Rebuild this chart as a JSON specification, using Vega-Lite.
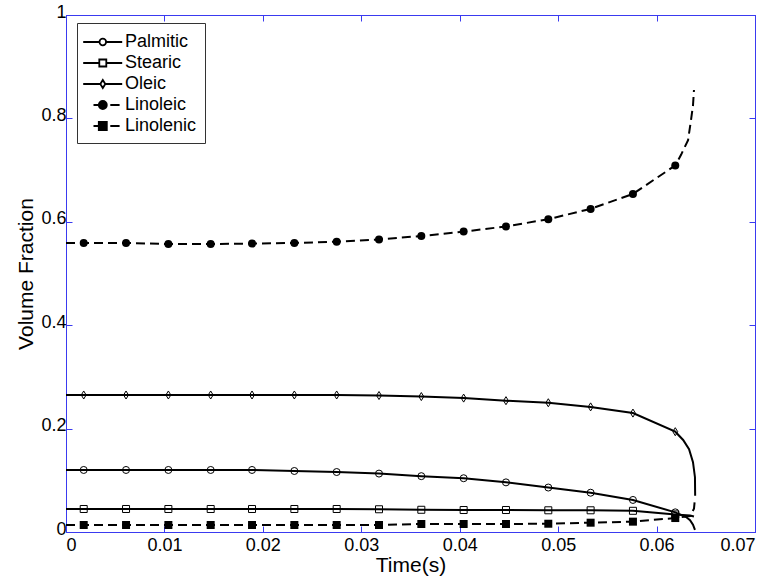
{
  "$schema": "https://vega.github.io/schema/vega-lite/v6.json",
  "width": 689,
  "height": 517,
  "autosize": {"type": "none"},
  "padding": {"left": 66, "top": 15, "right": 22, "bottom": 45},
  "background": "white",
  "config": {
    "view": {"stroke": "#3a3af0", "strokeWidth": 1},
    "axis": {
      "grid": false,
      "domainColor": "#3a3af0",
      "domainWidth": 1,
      "tickColor": "#3a3af0",
      "tickWidth": 1,
      "labelFont": "Liberation Sans",
      "labelFontSize": 18,
      "labelColor": "black",
      "titleFont": "Liberation Sans",
      "titleFontSize": 21,
      "titleFontWeight": "normal",
      "titleColor": "black"
    },
    "legend": {
      "labelFont": "Liberation Sans",
      "labelFontSize": 18,
      "labelColor": "black"
    }
  },
  "datasets": {
    "curves": [
      {"series": "Palmitic", "t": 0, "v": 0.12},
      {"series": "Palmitic", "t": 0.0018, "v": 0.12},
      {"series": "Palmitic", "t": 0.0061, "v": 0.12},
      {"series": "Palmitic", "t": 0.0104, "v": 0.12},
      {"series": "Palmitic", "t": 0.0147, "v": 0.12},
      {"series": "Palmitic", "t": 0.0189, "v": 0.12},
      {"series": "Palmitic", "t": 0.0232, "v": 0.118},
      {"series": "Palmitic", "t": 0.0275, "v": 0.116},
      {"series": "Palmitic", "t": 0.0318, "v": 0.113},
      {"series": "Palmitic", "t": 0.0361, "v": 0.108},
      {"series": "Palmitic", "t": 0.0404, "v": 0.104},
      {"series": "Palmitic", "t": 0.0447, "v": 0.096},
      {"series": "Palmitic", "t": 0.049, "v": 0.086},
      {"series": "Palmitic", "t": 0.0533, "v": 0.076},
      {"series": "Palmitic", "t": 0.0576, "v": 0.062},
      {"series": "Palmitic", "t": 0.0619, "v": 0.038},
      {"series": "Palmitic", "t": 0.063, "v": 0.029},
      {"series": "Palmitic", "t": 0.0634, "v": 0.023},
      {"series": "Palmitic", "t": 0.0637, "v": 0.014},
      {"series": "Palmitic", "t": 0.0639, "v": 0.004},
      {"series": "Stearic", "t": 0, "v": 0.0445},
      {"series": "Stearic", "t": 0.0018, "v": 0.0445},
      {"series": "Stearic", "t": 0.0061, "v": 0.0445},
      {"series": "Stearic", "t": 0.0104, "v": 0.0445},
      {"series": "Stearic", "t": 0.0147, "v": 0.0445},
      {"series": "Stearic", "t": 0.0189, "v": 0.0445},
      {"series": "Stearic", "t": 0.0232, "v": 0.0445},
      {"series": "Stearic", "t": 0.0275, "v": 0.0445},
      {"series": "Stearic", "t": 0.0318, "v": 0.044},
      {"series": "Stearic", "t": 0.0361, "v": 0.043},
      {"series": "Stearic", "t": 0.0404, "v": 0.0425},
      {"series": "Stearic", "t": 0.0447, "v": 0.0425},
      {"series": "Stearic", "t": 0.049, "v": 0.042},
      {"series": "Stearic", "t": 0.0533, "v": 0.042},
      {"series": "Stearic", "t": 0.0576, "v": 0.041},
      {"series": "Stearic", "t": 0.0619, "v": 0.034},
      {"series": "Stearic", "t": 0.0634, "v": 0.032},
      {"series": "Stearic", "t": 0.0638, "v": 0.03},
      {"series": "Oleic", "t": 0, "v": 0.265},
      {"series": "Oleic", "t": 0.0018, "v": 0.265},
      {"series": "Oleic", "t": 0.0061, "v": 0.265},
      {"series": "Oleic", "t": 0.0104, "v": 0.265},
      {"series": "Oleic", "t": 0.0147, "v": 0.265},
      {"series": "Oleic", "t": 0.0189, "v": 0.265},
      {"series": "Oleic", "t": 0.0232, "v": 0.265},
      {"series": "Oleic", "t": 0.0275, "v": 0.265},
      {"series": "Oleic", "t": 0.0318, "v": 0.264},
      {"series": "Oleic", "t": 0.0361, "v": 0.262},
      {"series": "Oleic", "t": 0.0404, "v": 0.259},
      {"series": "Oleic", "t": 0.0447, "v": 0.254},
      {"series": "Oleic", "t": 0.049, "v": 0.25},
      {"series": "Oleic", "t": 0.0533, "v": 0.242},
      {"series": "Oleic", "t": 0.0576, "v": 0.23},
      {"series": "Oleic", "t": 0.0619, "v": 0.194},
      {"series": "Oleic", "t": 0.0627, "v": 0.178},
      {"series": "Oleic", "t": 0.0633, "v": 0.16},
      {"series": "Oleic", "t": 0.0637, "v": 0.135},
      {"series": "Oleic", "t": 0.0639, "v": 0.106},
      {"series": "Oleic", "t": 0.06392, "v": 0.07},
      {"series": "Linoleic", "t": 0, "v": 0.559},
      {"series": "Linoleic", "t": 0.0018, "v": 0.559},
      {"series": "Linoleic", "t": 0.0061, "v": 0.559},
      {"series": "Linoleic", "t": 0.0104, "v": 0.557},
      {"series": "Linoleic", "t": 0.0147, "v": 0.557},
      {"series": "Linoleic", "t": 0.0189, "v": 0.558},
      {"series": "Linoleic", "t": 0.0232, "v": 0.559},
      {"series": "Linoleic", "t": 0.0275, "v": 0.5615},
      {"series": "Linoleic", "t": 0.0318, "v": 0.566},
      {"series": "Linoleic", "t": 0.0361, "v": 0.5725},
      {"series": "Linoleic", "t": 0.0404, "v": 0.581},
      {"series": "Linoleic", "t": 0.0447, "v": 0.591},
      {"series": "Linoleic", "t": 0.049, "v": 0.605},
      {"series": "Linoleic", "t": 0.0533, "v": 0.625},
      {"series": "Linoleic", "t": 0.0576, "v": 0.654},
      {"series": "Linoleic", "t": 0.0619, "v": 0.709},
      {"series": "Linoleic", "t": 0.0625, "v": 0.73},
      {"series": "Linoleic", "t": 0.0632, "v": 0.758},
      {"series": "Linoleic", "t": 0.0635, "v": 0.797},
      {"series": "Linoleic", "t": 0.0637, "v": 0.825},
      {"series": "Linoleic", "t": 0.0638, "v": 0.855},
      {"series": "Linolenic", "t": 0, "v": 0.0135},
      {"series": "Linolenic", "t": 0.0018, "v": 0.0135},
      {"series": "Linolenic", "t": 0.0061, "v": 0.0135},
      {"series": "Linolenic", "t": 0.0104, "v": 0.0135},
      {"series": "Linolenic", "t": 0.0147, "v": 0.0135},
      {"series": "Linolenic", "t": 0.0189, "v": 0.0135},
      {"series": "Linolenic", "t": 0.0232, "v": 0.0135},
      {"series": "Linolenic", "t": 0.0275, "v": 0.0135},
      {"series": "Linolenic", "t": 0.0318, "v": 0.0135},
      {"series": "Linolenic", "t": 0.0361, "v": 0.0155},
      {"series": "Linolenic", "t": 0.0404, "v": 0.0155},
      {"series": "Linolenic", "t": 0.0447, "v": 0.0155},
      {"series": "Linolenic", "t": 0.049, "v": 0.016},
      {"series": "Linolenic", "t": 0.0533, "v": 0.018},
      {"series": "Linolenic", "t": 0.0576, "v": 0.02},
      {"series": "Linolenic", "t": 0.0619, "v": 0.027},
      {"series": "Linolenic", "t": 0.0634, "v": 0.031},
      {"series": "Linolenic", "t": 0.0638, "v": 0.045},
      {"series": "Linolenic", "t": 0.0639, "v": 0.065}
    ],
    "markers": [
      {"series": "Palmitic", "t": 0.0018, "v": 0.12},
      {"series": "Palmitic", "t": 0.0061, "v": 0.12},
      {"series": "Palmitic", "t": 0.0104, "v": 0.12},
      {"series": "Palmitic", "t": 0.0147, "v": 0.12},
      {"series": "Palmitic", "t": 0.0189, "v": 0.12},
      {"series": "Palmitic", "t": 0.0232, "v": 0.118},
      {"series": "Palmitic", "t": 0.0275, "v": 0.116},
      {"series": "Palmitic", "t": 0.0318, "v": 0.113},
      {"series": "Palmitic", "t": 0.0361, "v": 0.108},
      {"series": "Palmitic", "t": 0.0404, "v": 0.104},
      {"series": "Palmitic", "t": 0.0447, "v": 0.096},
      {"series": "Palmitic", "t": 0.049, "v": 0.086},
      {"series": "Palmitic", "t": 0.0533, "v": 0.076},
      {"series": "Palmitic", "t": 0.0576, "v": 0.062},
      {"series": "Palmitic", "t": 0.0619, "v": 0.038},
      {"series": "Stearic", "t": 0.0018, "v": 0.0445},
      {"series": "Stearic", "t": 0.0061, "v": 0.0445},
      {"series": "Stearic", "t": 0.0104, "v": 0.0445},
      {"series": "Stearic", "t": 0.0147, "v": 0.0445},
      {"series": "Stearic", "t": 0.0189, "v": 0.0445},
      {"series": "Stearic", "t": 0.0232, "v": 0.0445},
      {"series": "Stearic", "t": 0.0275, "v": 0.0445},
      {"series": "Stearic", "t": 0.0318, "v": 0.044},
      {"series": "Stearic", "t": 0.0361, "v": 0.043},
      {"series": "Stearic", "t": 0.0404, "v": 0.0425},
      {"series": "Stearic", "t": 0.0447, "v": 0.0425},
      {"series": "Stearic", "t": 0.049, "v": 0.042},
      {"series": "Stearic", "t": 0.0533, "v": 0.042},
      {"series": "Stearic", "t": 0.0576, "v": 0.041},
      {"series": "Stearic", "t": 0.0619, "v": 0.034},
      {"series": "Oleic", "t": 0.0018, "v": 0.265},
      {"series": "Oleic", "t": 0.0061, "v": 0.265},
      {"series": "Oleic", "t": 0.0104, "v": 0.265},
      {"series": "Oleic", "t": 0.0147, "v": 0.265},
      {"series": "Oleic", "t": 0.0189, "v": 0.265},
      {"series": "Oleic", "t": 0.0232, "v": 0.265},
      {"series": "Oleic", "t": 0.0275, "v": 0.265},
      {"series": "Oleic", "t": 0.0318, "v": 0.264},
      {"series": "Oleic", "t": 0.0361, "v": 0.262},
      {"series": "Oleic", "t": 0.0404, "v": 0.259},
      {"series": "Oleic", "t": 0.0447, "v": 0.254},
      {"series": "Oleic", "t": 0.049, "v": 0.25},
      {"series": "Oleic", "t": 0.0533, "v": 0.242},
      {"series": "Oleic", "t": 0.0576, "v": 0.23},
      {"series": "Oleic", "t": 0.0619, "v": 0.194},
      {"series": "Linoleic", "t": 0.0018, "v": 0.559},
      {"series": "Linoleic", "t": 0.0061, "v": 0.559},
      {"series": "Linoleic", "t": 0.0104, "v": 0.557},
      {"series": "Linoleic", "t": 0.0147, "v": 0.557},
      {"series": "Linoleic", "t": 0.0189, "v": 0.558},
      {"series": "Linoleic", "t": 0.0232, "v": 0.559},
      {"series": "Linoleic", "t": 0.0275, "v": 0.5615},
      {"series": "Linoleic", "t": 0.0318, "v": 0.566},
      {"series": "Linoleic", "t": 0.0361, "v": 0.5725},
      {"series": "Linoleic", "t": 0.0404, "v": 0.581},
      {"series": "Linoleic", "t": 0.0447, "v": 0.591},
      {"series": "Linoleic", "t": 0.049, "v": 0.605},
      {"series": "Linoleic", "t": 0.0533, "v": 0.625},
      {"series": "Linoleic", "t": 0.0576, "v": 0.654},
      {"series": "Linoleic", "t": 0.0619, "v": 0.709},
      {"series": "Linolenic", "t": 0.0018, "v": 0.0135},
      {"series": "Linolenic", "t": 0.0061, "v": 0.0135},
      {"series": "Linolenic", "t": 0.0104, "v": 0.0135},
      {"series": "Linolenic", "t": 0.0147, "v": 0.0135},
      {"series": "Linolenic", "t": 0.0189, "v": 0.0135},
      {"series": "Linolenic", "t": 0.0232, "v": 0.0135},
      {"series": "Linolenic", "t": 0.0275, "v": 0.0135},
      {"series": "Linolenic", "t": 0.0318, "v": 0.0135},
      {"series": "Linolenic", "t": 0.0361, "v": 0.0155},
      {"series": "Linolenic", "t": 0.0404, "v": 0.0155},
      {"series": "Linolenic", "t": 0.0447, "v": 0.0155},
      {"series": "Linolenic", "t": 0.049, "v": 0.016},
      {"series": "Linolenic", "t": 0.0533, "v": 0.018},
      {"series": "Linolenic", "t": 0.0576, "v": 0.02},
      {"series": "Linolenic", "t": 0.0619, "v": 0.027}
    ]
  },
  "layer": [
    {
      "data": {"name": "curves"},
      "transform": [{"filter": {"field": "series", "oneOf": ["Palmitic", "Stearic", "Oleic"]}}],
      "mark": {"type": "line", "color": "black", "strokeWidth": 2},
      "encoding": {
        "x": {
          "field": "t", "type": "quantitative",
          "scale": {"domain": [0, 0.07], "nice": false, "zero": false},
          "axis": {"orient": "bottom", "title": "Time(s)", "values": [0, 0.01, 0.02, 0.03, 0.04, 0.05, 0.06, 0.07], "format": "~g", "tickSize": -6, "labelPadding": 10, "titlePadding": 0}
        },
        "y": {
          "field": "v", "type": "quantitative",
          "scale": {"domain": [0, 1], "nice": false},
          "axis": {"orient": "left", "title": "Volume Fraction", "values": [0, 0.2, 0.4, 0.6, 0.8, 1], "format": "~g", "tickSize": -6, "labelPadding": 6, "labelOffset": -3, "titlePadding": 4}
        },
        "detail": {"field": "series", "type": "nominal"}
      }
    },
    {
      "data": {"name": "curves"},
      "transform": [{"filter": {"field": "series", "oneOf": ["Linoleic", "Linolenic"]}}],
      "mark": {"type": "line", "color": "black", "strokeWidth": 2, "strokeDash": [9, 5]},
      "encoding": {
        "x": {"field": "t", "type": "quantitative", "axis": null},
        "y": {"field": "v", "type": "quantitative", "axis": null},
        "detail": {"field": "series", "type": "nominal"}
      }
    },
    {
      "data": {"name": "markers"},
      "transform": [{"filter": {"field": "series", "equal": "Palmitic"}}],
      "mark": {"type": "point", "shape": "circle", "filled": false, "color": "black", "strokeWidth": 1, "size": 49, "opacity": 1},
      "encoding": {
        "x": {
          "field": "t", "type": "quantitative",
          "axis": {"orient": "top", "title": null, "labels": false, "values": [0, 0.01, 0.02, 0.03, 0.04, 0.05, 0.06, 0.07], "tickSize": -6}
        },
        "y": {
          "field": "v", "type": "quantitative",
          "axis": {"orient": "right", "title": null, "labels": false, "values": [0, 0.2, 0.4, 0.6, 0.8, 1], "tickSize": -6}
        }
      }
    },
    {
      "data": {"name": "markers"},
      "transform": [{"filter": {"field": "series", "equal": "Stearic"}}],
      "mark": {"type": "point", "shape": "square", "filled": false, "color": "black", "strokeWidth": 1, "size": 49, "opacity": 1},
      "encoding": {
        "x": {"field": "t", "type": "quantitative", "axis": null},
        "y": {"field": "v", "type": "quantitative", "axis": null}
      }
    },
    {
      "data": {"name": "markers"},
      "transform": [{"filter": {"field": "series", "equal": "Oleic"}}],
      "mark": {"type": "point", "shape": "M0,-1.15L0.7,0L0,1.15L-0.7,0Z", "filled": false, "color": "black", "strokeWidth": 1, "size": 49, "opacity": 1},
      "encoding": {
        "x": {"field": "t", "type": "quantitative", "axis": null},
        "y": {"field": "v", "type": "quantitative", "axis": null}
      }
    },
    {
      "data": {"name": "markers"},
      "transform": [{"filter": {"field": "series", "equal": "Linoleic"}}],
      "mark": {"type": "point", "shape": "circle", "filled": true, "color": "black", "size": 64, "opacity": 1},
      "encoding": {
        "x": {"field": "t", "type": "quantitative", "axis": null},
        "y": {"field": "v", "type": "quantitative", "axis": null}
      }
    },
    {
      "data": {"name": "markers"},
      "transform": [{"filter": {"field": "series", "equal": "Linolenic"}}],
      "mark": {"type": "point", "shape": "square", "filled": true, "color": "black", "size": 64, "opacity": 1},
      "encoding": {
        "x": {"field": "t", "type": "quantitative", "axis": null},
        "y": {"field": "v", "type": "quantitative", "axis": null}
      }
    },
    {
      "description": "Legend carrier: line-and-marker key for the five acids, no plotted points of its own. Solid markers are drawn as nested outlines so the key stays stroke-only.",
      "data": {"name": "markers"},
      "transform": [{"filter": "datum.t < 0"}],
      "mark": {"type": "point", "filled": false, "color": "black", "strokeWidth": 1.8, "opacity": 1},
      "encoding": {
        "x": {"field": "t", "type": "quantitative", "axis": null},
        "y": {"field": "v", "type": "quantitative", "axis": null},
        "shape": {
          "field": "series", "type": "nominal",
          "scale": {
            "domain": ["Palmitic", "Stearic", "Oleic", "Linoleic", "Linolenic"],
            "range": [
              "M-1.28,0H0.35M1.01,0H2.62M1.01,0A0.33,0.33 0 1 1 0.35,0A0.33,0.33 0 1 1 1.01,0Z",
              "M-1.28,0H0.33M1.03,0H2.62M0.33,-0.35H1.03V0.35H0.33Z",
              "M-1.28,0H0.43M0.93,0H2.62M0.68,-0.4L0.93,0L0.68,0.4L0.43,0Z",
              "M-0.25,0H0.28M1.43,0H2.36M1.08,0A0.4,0.4 0 1 1 0.28,0A0.4,0.4 0 1 1 1.08,0ZM0.93,0A0.25,0.25 0 1 1 0.43,0A0.25,0.25 0 1 1 0.93,0ZM0.78,0A0.1,0.1 0 1 1 0.58,0A0.1,0.1 0 1 1 0.78,0Z",
              "M-0.25,0H0.28M1.43,0H2.36M0.28,-0.4H1.08V0.4H0.28ZM0.43,-0.25H0.93V0.25H0.43ZM0.58,-0.1H0.78V0.1H0.58Z"
            ]
          },
          "legend": {
            "title": null, "orient": "none", "legendX": 11, "legendY": 8,
            "padding": 8, "strokeColor": "#333333", "fillColor": "white",
            "symbolSize": 400, "symbolStrokeColor": "black", "symbolStrokeWidth": 1.8, "symbolOpacity": 1,
            "rowPadding": 1, "labelOffset": 18
          }
        }
      }
    }
  ],
  "resolve": {"axis": {"x": "independent", "y": "independent"}}
}
